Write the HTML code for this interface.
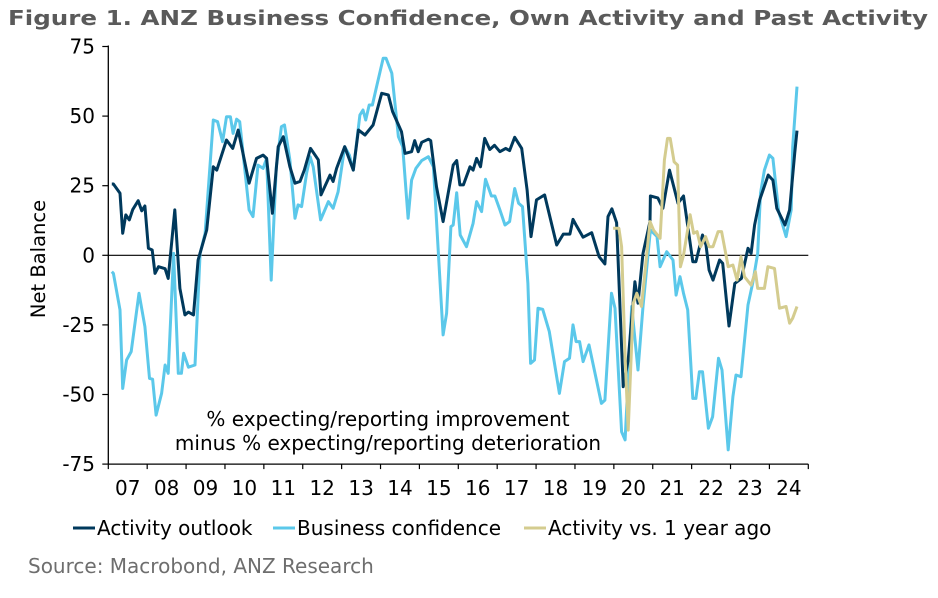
<!DOCTYPE html>
<html><head><meta charset="utf-8"><style>
html,body{margin:0;padding:0;background:#fff;width:938px;height:598px;overflow:hidden}
svg text{font-family:"DejaVu Sans","Liberation Sans",sans-serif}
</style></head><body>
<svg id="chart" width="938" height="598" viewBox="0 0 938 598" xmlns="http://www.w3.org/2000/svg">
<text x="8" y="25" font-size="20" font-weight="bold" fill="#5a5a5a" textLength="920" lengthAdjust="spacingAndGlyphs">Figure 1.  ANZ Business Confidence, Own Activity and Past Activity</text>
<g id="axes"></g>
<g id="series"></g>
<text transform="translate(45,259) rotate(-90)" text-anchor="middle" font-size="19.5" fill="#000">Net Balance</text>
<text x="388" y="426" text-anchor="middle" font-size="20" fill="#000">% expecting/reporting improvement</text>
<text x="388" y="450" text-anchor="middle" font-size="20" fill="#000">minus % expecting/reporting deterioration</text>
<g>
<line x1="73" y1="528" x2="95" y2="528" stroke="#00395c" stroke-width="3"/>
<text x="97" y="535" font-size="20" fill="#000">Activity outlook</text>
<line x1="273" y1="528" x2="295" y2="528" stroke="#5bc8ea" stroke-width="3"/>
<text x="297" y="535" font-size="20" fill="#000">Business confidence</text>
<line x1="524" y1="528" x2="546" y2="528" stroke="#d4cc8f" stroke-width="3"/>
<text x="548" y="535" font-size="20" fill="#000">Activity vs. 1 year ago</text>
</g>
<text x="28" y="573" font-size="20" fill="#6e6e6e">Source: Macrobond, ANZ Research</text>
</svg>
<script>
const yTicks=[75,50,25,0,-25,-50,-75];
const yearLabels=["07","08","09","10","11","12","13","14","15","16","17","18","19","20","21","22","23","24"];
const outlookDates=[2007.09,2007.13,2007.30,2007.37,2007.45,2007.54,2007.63,2007.77,2007.86,2007.94,2008.03,2008.13,2008.20,2008.29,2008.46,2008.54,2008.71,2008.84,2008.97,2009.06,2009.19,2009.31,2009.53,2009.70,2009.79,2010.04,2010.20,2010.34,2010.62,2010.81,2010.98,2011.07,2011.22,2011.37,2011.50,2011.67,2011.80,2011.93,2012.04,2012.20,2012.40,2012.47,2012.70,2012.78,2012.87,2013.08,2013.30,2013.43,2013.60,2013.81,2014.03,2014.20,2014.31,2014.54,2014.63,2014.80,2014.88,2014.97,2015.06,2015.23,2015.29,2015.44,2015.61,2015.87,2015.96,2016.04,2016.13,2016.30,2016.38,2016.47,2016.57,2016.68,2016.81,2016.93,2017.07,2017.22,2017.32,2017.45,2017.63,2017.77,2017.87,2018.01,2018.22,2018.53,2018.70,2018.87,2018.95,2019.04,2019.21,2019.43,2019.62,2019.77,2019.85,2019.95,2020.07,2020.24,2020.37,2020.54,2020.62,2020.75,2020.93,2020.94,2021.13,2021.26,2021.43,2021.65,2021.79,2022.03,2022.11,2022.28,2022.37,2022.45,2022.55,2022.72,2022.80,2022.96,2023.11,2023.28,2023.45,2023.53,2023.62,2023.75,2023.97,2024.09,2024.19,2024.40,2024.52,2024.65,2024.71];
const outlookValues=[25.6,25.6,22.3,7.9,14.5,12.7,16.5,19.6,16,17.7,2.5,1.9,-6.5,-4.1,-4.8,-8.3,16.3,-11.9,-21.4,-20.4,-21.4,-1.7,9.1,31.8,30.6,41.4,38.4,45,25.9,34.8,36,34.8,15.1,39,42.6,31.8,25.9,26.5,30.6,38.4,34.3,21.7,28.8,26.5,31.2,39,30.6,45,43.2,46.8,58.2,57.6,51.6,44.4,36.6,37.2,41.2,37.2,40.6,41.7,41.2,24.6,12.1,32.4,34,25.3,25.3,31.8,30.6,34.8,31.8,42,38,39.5,37.2,38.4,37.6,42.4,38.4,23.5,6.7,19.9,21.7,3.7,7.6,7.6,12.9,10.6,6.5,8.1,-0.5,-3.1,13.9,16.7,11.7,-47.2,-37.6,-9.5,-17.2,0.7,12.1,21.3,20.6,16.9,30.6,18.7,21.3,-2.3,-2.3,7.3,3.7,-5.3,-8.9,-1.7,-2.9,-25.4,-10.1,-8.3,2.5,0.7,10.9,19.9,28.8,27,16.9,10.9,16.3,36.6,44.8];
const confDates=[2007.09,2007.13,2007.30,2007.37,2007.47,2007.59,2007.79,2007.94,2008.06,2008.14,2008.23,2008.37,2008.46,2008.54,2008.68,2008.80,2008.88,2008.94,2009.06,2009.23,2009.36,2009.49,2009.70,2009.81,2009.94,2010.04,2010.14,2010.21,2010.30,2010.38,2010.62,2010.72,2010.85,2010.98,2011.07,2011.19,2011.32,2011.45,2011.53,2011.67,2011.80,2011.88,2011.97,2012.10,2012.19,2012.27,2012.46,2012.66,2012.78,2012.91,2013.08,2013.20,2013.30,2013.47,2013.55,2013.62,2013.71,2013.79,2013.90,2014.07,2014.14,2014.29,2014.46,2014.57,2014.71,2014.80,2014.91,2015.06,2015.23,2015.36,2015.61,2015.70,2015.81,2015.87,2015.96,2016.05,2016.21,2016.38,2016.47,2016.60,2016.70,2016.85,2016.94,2017.07,2017.20,2017.32,2017.45,2017.55,2017.65,2017.79,2017.86,2017.96,2018.05,2018.17,2018.34,2018.60,2018.73,2018.86,2018.95,2019.03,2019.12,2019.21,2019.36,2019.68,2019.77,2019.94,2020.03,2020.20,2020.29,2020.46,2020.62,2020.75,2020.94,2021.11,2021.19,2021.36,2021.52,2021.60,2021.70,2021.79,2021.90,2022.03,2022.11,2022.20,2022.28,2022.43,2022.54,2022.69,2022.78,2022.94,2023.06,2023.14,2023.27,2023.45,2023.57,2023.70,2023.77,2023.87,2024.00,2024.09,2024.24,2024.43,2024.56,2024.60,2024.71];
const confValues=[-5.9,-6.5,-19.6,-47.8,-37.6,-34.6,-13.6,-25.6,-44.2,-44.5,-57.4,-49.6,-39.4,-42.4,0.7,-42.4,-42.4,-35.2,-40.2,-39.4,0.7,7.9,48.6,48,40.8,49.8,49.8,43.8,48.9,48,16.3,13.9,32.4,31.2,34.8,-8.9,31.8,46.2,46.8,34.2,13.3,18.1,17.5,29.5,35.4,31.8,12.7,19.3,16.9,22.8,39,36,30.6,50.4,52.2,48.6,54,54,60.6,70.8,70.8,65.4,42.6,39,13.3,27,31.2,34,35.4,31.8,-28.6,-20.8,10.3,10.9,22.5,7.3,3.1,11.5,19.3,15.7,27.3,21.3,21.3,16.3,10.9,12.1,24,18.7,17.5,-10.1,-38.8,-37.6,-19,-19.4,-27.4,-49.6,-38.2,-37,-25,-31,-31,-38.2,-32.2,-53.2,-52,-13.6,-19,-63.4,-66.3,-18.4,-41.2,-18.4,9.1,6.7,-4.1,1.3,-1.7,-14.3,-7.7,-13.6,-19.6,-51.4,-51.4,-41.8,-41.8,-62.1,-58,-37,-41.2,-69.9,-50.8,-43,-43.6,-17.8,-10,0.7,22.3,30.6,36,34.8,15.7,6.7,16.3,39,60.6];
const pastDates=[2019.98,2020.13,2020.20,2020.29,2020.37,2020.50,2020.59,2020.71,2020.93,2021.02,2021.19,2021.30,2021.38,2021.45,2021.55,2021.64,2021.71,2021.79,2021.96,2022.05,2022.14,2022.23,2022.36,2022.45,2022.55,2022.68,2022.77,2022.94,2023.06,2023.17,2023.27,2023.36,2023.53,2023.64,2023.70,2023.79,2023.87,2023.96,2024.13,2024.26,2024.43,2024.52,2024.60,2024.71];
const pastValues=[9.7,9.7,3.1,-36.4,-62.8,-17.2,-13.6,-18.4,12.1,9.1,6.1,34.2,42,42,33.6,32.4,-4.1,0,14.6,7.9,8.5,3.1,6.7,3.1,3.1,8.5,8.5,-4.1,-3.5,-8.9,-0.5,-7.7,-10.7,-5.9,-11.9,-11.9,-11.9,-4.1,-4.7,-19,-18.4,-24.4,-22.6,-18.4];

const NS="http://www.w3.org/2000/svg";
const X0=108.3,X1=808.3,START=2007,END=2025;
const Y0=255.3,PX=2.784;
const xs=t=>X0+(t-START)*(X1-X0)/(END-START);
const ys=v=>Y0-v*PX;
function mk(tag,attrs,parent){const e=document.createElementNS(NS,tag);for(const k in attrs)e.setAttribute(k,attrs[k]);parent.appendChild(e);return e;}
const axes=document.getElementById('axes');
const yl=mk('line',{x1:X0,y1:ys(75)-1,x2:X0,y2:ys(-75),stroke:'#000','stroke-width':1.3},axes);


const xl=mk('line',{x1:X0,y1:ys(-75),x2:X1,y2:ys(-75),stroke:'#000','stroke-width':1.3},axes);


const zl=mk('line',{x1:X0,y1:ys(0),x2:X1,y2:ys(0),stroke:'#000','stroke-width':1.2},axes);


yTicks.forEach(v=>{
  const t=mk('line',{x1:X0-6,y1:ys(v),x2:X0,y2:ys(v),stroke:'#000','stroke-width':1.2},axes);
  
  
  const l=mk('text',{x:95,y:ys(v)+7,'text-anchor':'end','font-size':20,fill:'#000'},axes);
  
  
  l.textContent=v;
});
for(let i=0;i<=yearLabels.length;i++){
  const t=mk('line',{x1:xs(START+i),y1:ys(-75),x2:xs(START+i),y2:ys(-75)+5,stroke:'#000','stroke-width':1.2},axes);
  
  
}
yearLabels.forEach((lab,i)=>{
  const l=mk('text',{x:xs(START+i+0.5),y:495,'text-anchor':'middle','font-size':20,fill:'#000'},axes);
  
  
  l.textContent=lab;
});
const ser=document.getElementById('series');
function draw(dates,vals,color,name){
  const d=dates.map((t,i)=>(i?'L':'M')+xs(t).toFixed(1)+','+ys(vals[i]).toFixed(1)).join(' ');
  const p=mk('path',{d:d,fill:'none',stroke:color,'stroke-width':3,'stroke-linejoin':'round'},ser);
  
  
}
draw(confDates,confValues,'#5bc8ea','business-confidence-line');
draw(outlookDates,outlookValues,'#00395c','activity-outlook-line');
draw(pastDates,pastValues,'#d4cc8f','activity-vs-year-ago-line');
</script>
</body></html>
